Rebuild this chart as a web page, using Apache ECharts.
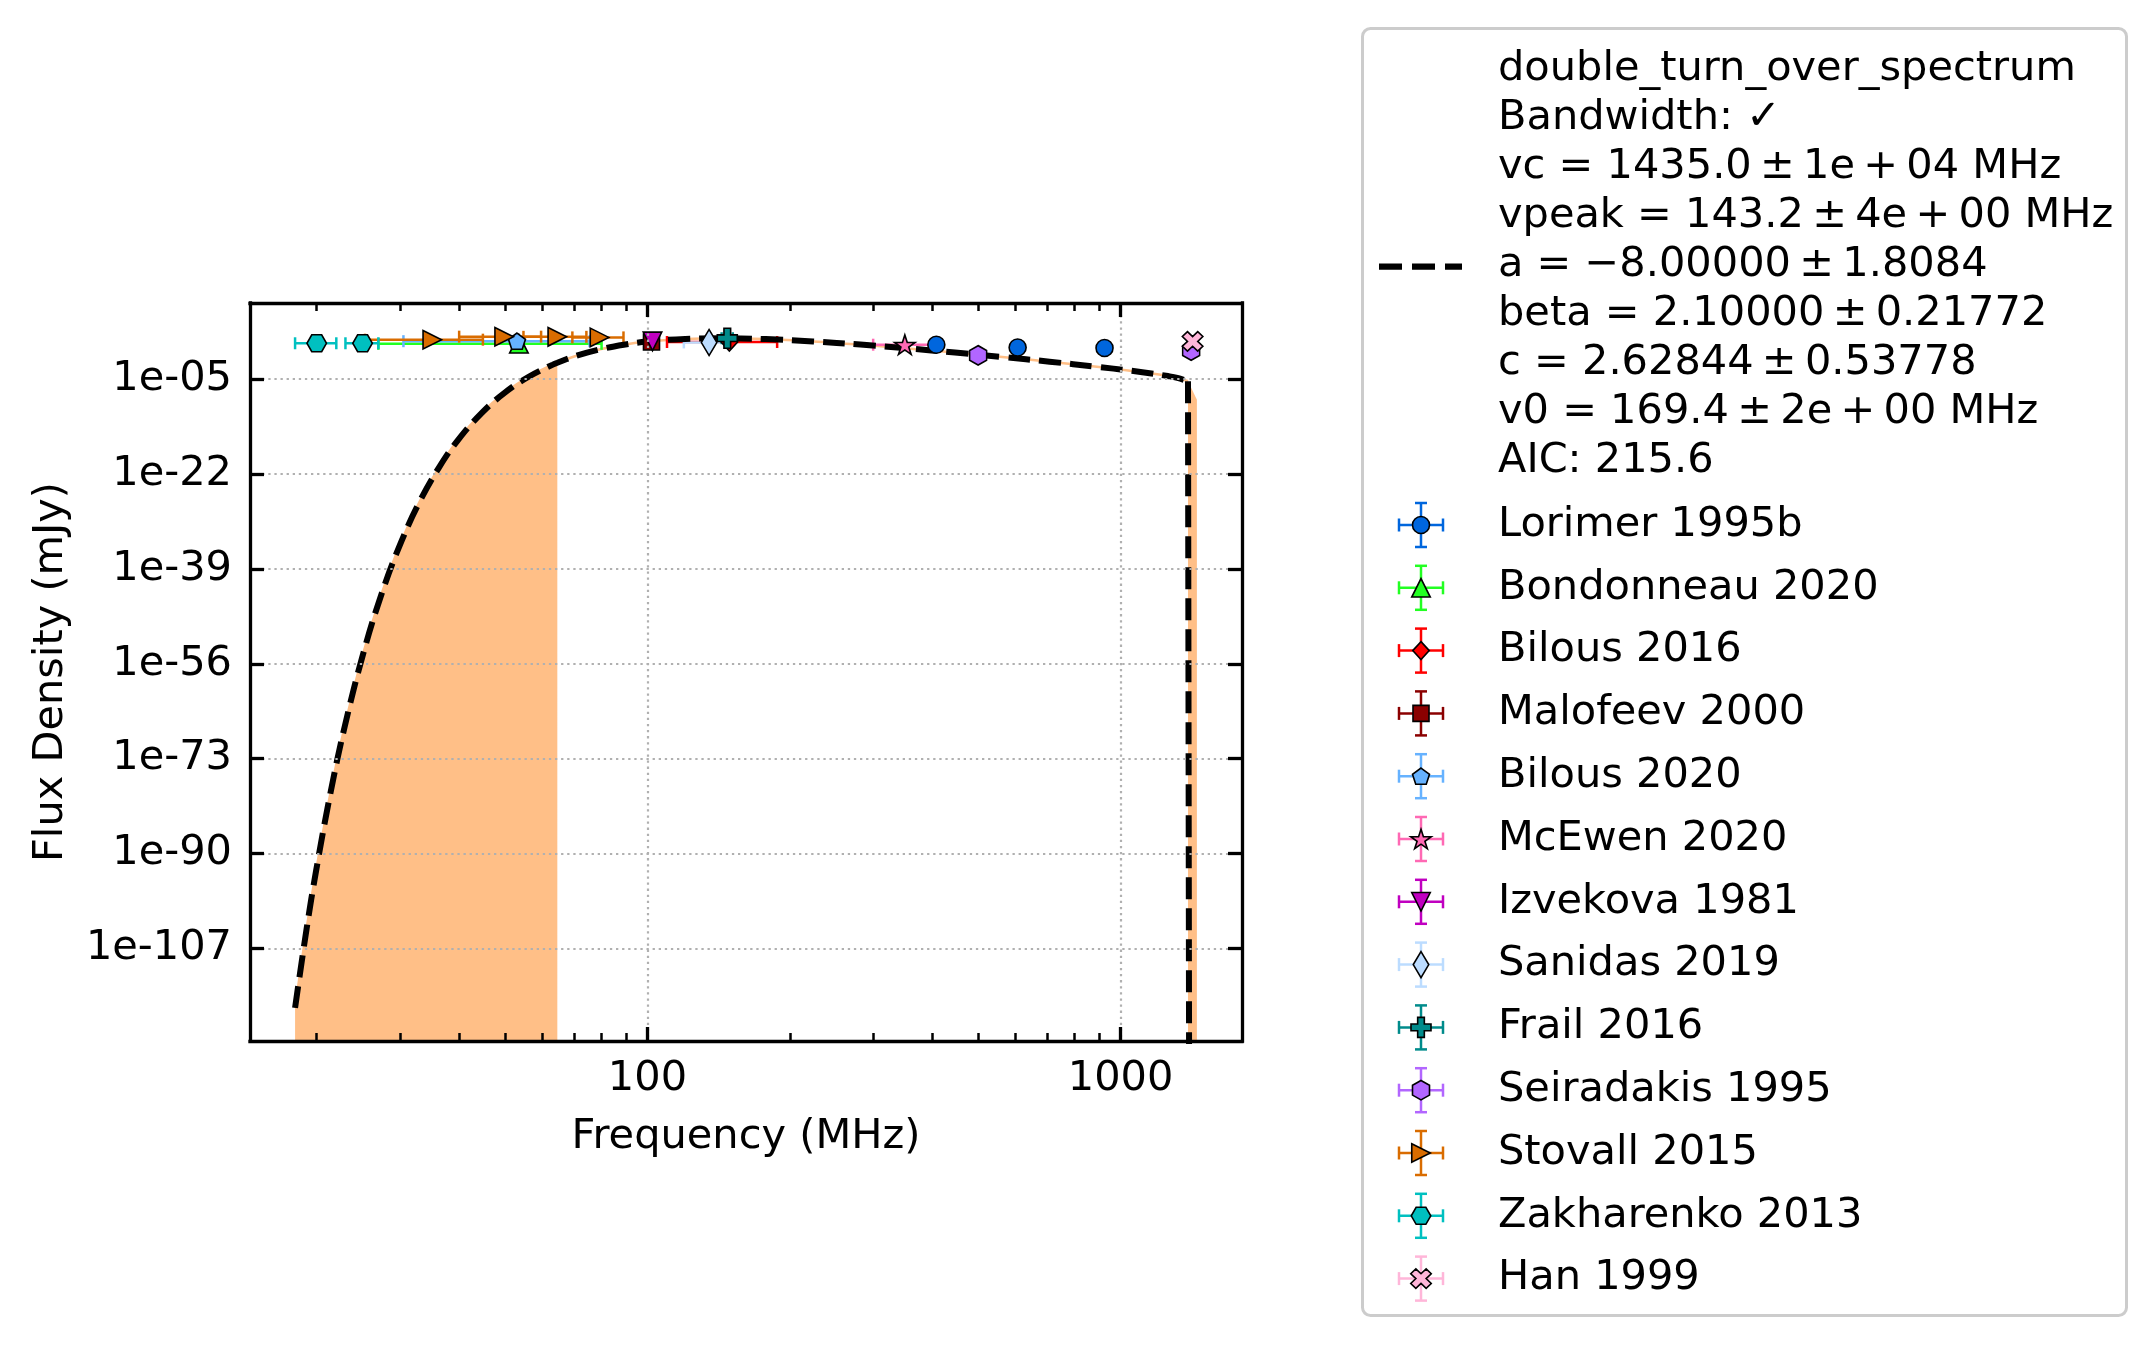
<!DOCTYPE html>
<html>
<head>
<meta charset="utf-8">
<script src="https://cdn.jsdelivr.net/npm/echarts@6/dist/echarts.min.js"></script>
<style>
html,body{margin:0;padding:0;background:#ffffff;}
#chart{width:2156px;height:1346px;}
</style>
</head>
<body>
<div id="chart"></div>
<script>
// ---------------- DATA ----------------
// tick values
const xMajorTicks = [100, 1000];
const xMinorTicks = [20, 30, 40, 50, 60, 70, 80, 90, 200, 300, 400, 500, 600, 700, 800, 900];
const yMajorExponents = [-5, -22, -39, -56, -73, -90, -107];

// catalogue names / colours / markers (legend order)
const seriesNames = ['Lorimer 1995b', 'Bondonneau 2020', 'Bilous 2016', 'Malofeev 2000', 'Bilous 2020',
  'McEwen 2020', 'Izvekova 1981', 'Sanidas 2019', 'Frail 2016', 'Seiradakis 1995', 'Stovall 2015',
  'Zakharenko 2013', 'Han 1999'];
const seriesColors = ['#0066dd', '#22ff22', '#ff0000', '#8b0000', '#66b2ff', '#ff69b4', '#c000c0',
  '#bcdcff', '#008b8b', '#b266ff', '#d96c00', '#00c0c0', '#ffb6d9'];
const seriesMarkers = ['o', '^', 'D', 's', 'p', '*', 'v', 'd', 'P', 'h', '>', 'H', 'X'];

// measurements (MHz, mJy)
const lorimerFreq = [408, 606, 925];        const lorimerFreqErr = [4, 6, 9];
const lorimerFlux = [13.8, 4.4, 3.5];       const lorimerFluxErr = [1.4, 0.5, 0.4];
const bondonneauFreq = [53.5];              const bondonneauFreqErr = [26.5];
const bondonneauFlux = [20];                const bondonneauFluxErr = [3];
const bilous2016Freq = [149];               const bilous2016FreqErr = [39];
const bilous2016Flux = [42];                const bilous2016FluxErr = [5];
const malofeevFreq = [102];                 const malofeevFreqErr = [1.5];
const malofeevFlux = [42];                  const malofeevFluxErr = [6];
const bilous2020Freq = [53];                const bilous2020FreqErr = [22.5];
const bilous2020Flux = [59];                const bilous2020FluxErr = [8];
const mcewenFreq = [350];                   const mcewenFreqErr = [50];
const mcewenFlux = [13.8];                  const mcewenFluxErr = [2];
const izvekovaFreq = [102.5];               const izvekovaFreqErr = [1.5];
const izvekovaFlux = [54];                  const izvekovaFluxErr = [8];
const sanidasFreq = [135];                  const sanidasFreqErr = [15.6];
const sanidasFlux = [35.5];                 const sanidasFluxErr = [5];
const frailFreq = [147.5];                  const frailFreqErr = [4];
const frailFlux = [200];                    const frailFluxErr = [25];
const seiradakisFreq = [500, 1410];         const seiradakisFreqErr = [5, 10];
const seiradakisFlux = [0.17, 1.2];         const seiradakisFluxErr = [0.03, 0.1];
const stovallFreq = [35.1, 49.8, 64.5, 79.2]; const stovallFreqErr = [9.8, 9.8, 9.8, 9.8];
const stovallFlux = [110, 380, 355, 282];   const stovallFluxErr = [20, 60, 50, 40];
const zakharenkoFreq = [20, 25];            const zakharenkoFreqErr = [2, 2];
const zakharenkoFlux = [25, 25];            const zakharenkoFluxErr = [5, 5];
const hanFreq = [1420];                     const hanFreqErr = [5];
const hanFlux = [54];                       const hanFluxErr = [6];

// fitted double turn-over spectrum (0 = beyond cut-off)
const fitFreq = [18.0, 19.05, 19.95, 21.38, 22.91, 25.12, 27.54, 30.20, 33.11, 36.31, 39.81, 44.67,
  50.12, 56.23, 63.10, 64.5, 70.79, 79.43, 89.13, 100, 120.23, 144.54, 177.83, 223.87, 281.84, 354.81,
  446.68, 562.34, 707.95, 891.25, 1047.13, 1174.90, 1258.93, 1318.26, 1388.5, 1450];
const fitFlux = [2.4e-118, 4.7e-104, 1.1e-93, 6.8e-80, 5.1e-68, 1.1e-54, 9.5e-44, 8.5e-35, 1.8e-27,
  1.7e-21, 1.3e-16, 8.7e-12, 4.4e-8, 2.8e-5, 3.8e-3, 8.3e-3, 0.147, 2.10, 13.95, 50.4, 152.9, 200.7,
  139.2, 53.7, 14.35, 3.03, 0.546, 0.0874, 0.01253, 1.563e-3, 3.14e-4, 8.50e-5, 3.33e-5, 1.53e-5,
  4.05e-6, 0];
// uncertainty band regions that reach down to zero flux
const bandLowFreq = [18.0, 19.05, 19.95, 21.38, 22.91, 25.12, 27.54, 30.20, 33.11, 36.31, 39.81, 44.67,
  50.12, 56.23, 63.10, 64.5];
const bandLowUpper = [2.4e-118, 4.7e-104, 1.1e-93, 6.8e-80, 5.1e-68, 1.1e-54, 9.5e-44, 8.5e-35, 1.8e-27,
  1.7e-21, 1.3e-16, 8.7e-12, 4.4e-8, 2.8e-5, 3.8e-3, 8.3e-3];
const bandHighFreq = [1388.5, 1450];
const bandHighUpper = [4.05e-6, 2.0e-9];

const legendFitLines = ['double_turn_over_spectrum', 'Bandwidth: \u2713',
  'vc = 1435.0\u2009\u00b1\u20091e\u2009+\u200904 MHz',
  'vpeak = 143.2\u2009\u00b1\u20094e\u2009+\u200900 MHz',
  'a = \u22128.00000\u2009\u00b1\u20091.8084',
  'beta = 2.10000\u2009\u00b1\u20090.21772',
  'c = 2.62844\u2009\u00b1\u20090.53778',
  'v0 = 169.4\u2009\u00b1\u20092e\u2009+\u200900 MHz',
  'AIC: 215.6'];

// ---------------- BUILD ----------------
const LOG = v => (v > 0 ? Math.log10(v) : -1000);
const FONT = 'DejaVu Sans';
const FS = 41.5;
const X_MIN = 1.16, X_MAX = 3.2567, Y_MIN = -123.56, Y_MAX = 8.61;
const FILL = '#ffbf87';

const measurements = [
  [lorimerFreq, lorimerFreqErr, lorimerFlux, lorimerFluxErr],
  [bondonneauFreq, bondonneauFreqErr, bondonneauFlux, bondonneauFluxErr],
  [bilous2016Freq, bilous2016FreqErr, bilous2016Flux, bilous2016FluxErr],
  [malofeevFreq, malofeevFreqErr, malofeevFlux, malofeevFluxErr],
  [bilous2020Freq, bilous2020FreqErr, bilous2020Flux, bilous2020FluxErr],
  [mcewenFreq, mcewenFreqErr, mcewenFlux, mcewenFluxErr],
  [izvekovaFreq, izvekovaFreqErr, izvekovaFlux, izvekovaFluxErr],
  [sanidasFreq, sanidasFreqErr, sanidasFlux, sanidasFluxErr],
  [frailFreq, frailFreqErr, frailFlux, frailFluxErr],
  [seiradakisFreq, seiradakisFreqErr, seiradakisFlux, seiradakisFluxErr],
  [stovallFreq, stovallFreqErr, stovallFlux, stovallFluxErr],
  [zakharenkoFreq, zakharenkoFreqErr, zakharenkoFlux, zakharenkoFluxErr],
  [hanFreq, hanFreqErr, hanFlux, hanFluxErr]
];

const markerDefs = {
  'o': { path: null, size: [17, 17] },
  '^': { path: 'M50,0L100,100L0,100Z', size: [18.5, 18.5] },
  'v': { path: 'M0,0L100,0L50,100Z', size: [18.5, 18.5] },
  '>': { path: 'M0,0L100,50L0,100Z', size: [18.5, 18.5] },
  'D': { path: 'M50,0L100,50L50,100L0,50Z', size: [16.5, 18] },
  'd': { path: 'M50,0L100,50L50,100L0,50Z', size: [15.5, 26] },
  's': { path: 'M0,0L100,0L100,100L0,100Z', size: [16, 16] },
  'p': { path: 'M95.1,0L190.2,69.1L153.9,180.9L36.3,180.9L0,69.1Z', size: [17, 16.2] },
  '*': { path: 'M95.1,0L117.55,69.1L190.2,69.1L131.43,111.8L153.9,180.9L95.1,138.2L36.3,180.9L58.77,111.8L0,69.1L72.65,69.1Z', size: [20.5, 19.5] },
  'P': { path: 'M20,0L40,0L40,20L60,20L60,40L40,40L40,60L20,60L20,40L0,40L0,20L20,20Z', size: [20, 20] },
  'h': { path: 'M86.6,0L173.2,50L173.2,150L86.6,200L0,150L0,50Z', size: [17, 19.5] },
  'H': { path: 'M200,86.6L150,173.2L50,173.2L0,86.6L50,0L150,0Z', size: [19.5, 17] },
  'X': { path: 'M10,0L20,10L30,0L40,10L30,20L40,30L30,40L20,30L10,40L0,30L10,20L0,10Z', size: [20.5, 19.5] }
};

// polygon points of a marker path fitted into a w x h box centred on (cx, cy)
function markerPoints(path, cx, cy, w, h) {
  const pts = path.replace(/[MZ]/g, '').split('L').map(s => s.split(',').map(Number));
  const xs = pts.map(p => p[0]), ys = pts.map(p => p[1]);
  const x0 = Math.min(...xs), x1 = Math.max(...xs), y0 = Math.min(...ys), y1 = Math.max(...ys);
  return pts.map(p => [cx - w / 2 + (p[0] - x0) / (x1 - x0) * w, cy - h / 2 + (p[1] - y0) / (y1 - y0) * h]);
}

const pairs = (fs, vs) => fs.map((f, i) => [LOG(f), LOG(vs[i])]);
const fitPositive = pairs(fitFreq.slice(0, fitFreq.length - 1), fitFlux.slice(0, fitFlux.length - 1));
const fitDrop = pairs(fitFreq.slice(fitFreq.length - 2), fitFlux.slice(fitFlux.length - 2));

const series = [];
series.push({
  type: 'line', data: pairs(bandLowFreq, bandLowUpper), smooth: 0.4, symbol: 'none', silent: true,
  lineStyle: { width: 0 }, areaStyle: { color: FILL, opacity: 1, origin: 'start' }, z: 1
});
series.push({
  type: 'line', data: pairs(bandHighFreq, bandHighUpper), symbol: 'none', silent: true,
  lineStyle: { width: 0 }, areaStyle: { color: FILL, opacity: 1, origin: 'start' }, z: 1
});
series.push({
  type: 'line', data: fitPositive, smooth: 0.4, symbol: 'none', silent: true,
  lineStyle: { color: FILL, width: 2.5 }, z: 2
});

// error bars
measurements.forEach((m, k) => {
  const [fr, fe, fl, fle] = m;
  const data = fr.map((f, i) => [LOG(f), LOG(fl[i]), LOG(f - fe[i]), LOG(f + fe[i]),
    LOG(fl[i] - fle[i]), LOG(fl[i] + fle[i])]);
  const color = seriesColors[k];
  series.push({
    type: 'custom', name: seriesNames[k] + ' err', data: data, z: 3, silent: true, clip: true,
    encode: { x: 0, y: 1 },
    renderItem: function (params, api) {
      const c = api.coord([api.value(0), api.value(1)]);
      const xl = api.coord([api.value(2), api.value(1)])[0];
      const xh = api.coord([api.value(3), api.value(1)])[0];
      const yl = api.coord([api.value(0), api.value(4)])[1];
      const yh = api.coord([api.value(0), api.value(5)])[1];
      const cap = 6;
      const st = { stroke: color, lineWidth: 2.5 };
      const ln = (x1, y1, x2, y2) => ({ type: 'line', shape: { x1, y1, x2, y2 }, style: st });
      return {
        type: 'group', children: [
          ln(xl, c[1], xh, c[1]), ln(xl, c[1] - cap, xl, c[1] + cap), ln(xh, c[1] - cap, xh, c[1] + cap),
          ln(c[0], yl, c[0], yh), ln(c[0] - cap, yl, c[0] + cap, yl), ln(c[0] - cap, yh, c[0] + cap, yh)
        ]
      };
    }
  });
});

// fitted curve
series.push({
  type: 'line', data: fitPositive, smooth: 0.4, symbol: 'none', silent: true,
  lineStyle: { color: '#000', width: 6, type: [22, 9], cap: 'butt' }, z: 4
});
series.push({
  type: 'line', data: fitDrop, symbol: 'none', silent: true,
  lineStyle: { color: '#000', width: 6, type: [22, 9], cap: 'butt' }, z: 4
});

// markers
measurements.forEach((m, k) => {
  const [fr, , fl] = m;
  const def = markerDefs[seriesMarkers[k]];
  series.push({
    type: 'scatter', name: seriesNames[k], data: pairs(fr, fl), z: 5, silent: true,
    symbol: def.path ? 'path://' + def.path : 'circle', symbolSize: def.size,
    itemStyle: { color: seriesColors[k], borderColor: '#000', borderWidth: 1.6, opacity: 1 }
  });
});

// ---------------- LEGEND (graphic) ----------------
const graphics = [];
graphics.push({
  type: 'rect', z: 100,
  shape: { x: 1362.5, y: 28.5, width: 764, height: 1287, r: 8 },
  style: { fill: '#ffffff', stroke: '#cccccc', lineWidth: 3 }
});
graphics.push({
  type: 'line', z: 101, shape: { x1: 1379, y1: 266.5, x2: 1462, y2: 266.5 },
  style: { stroke: '#000', lineWidth: 6.25, lineDash: [23, 10] }
});
legendFitLines.forEach((t, i) => {
  graphics.push({
    type: 'text', z: 101, x: 1498, y: 69 + i * 49.0,
    style: { text: t, font: FS + 'px "' + FONT + '"', fill: '#000', align: 'left', verticalAlign: 'middle' }
  });
});
seriesNames.forEach((nm, k) => {
  const cy = 525 + k * 62.8, cx = 1421;
  const st = { stroke: seriesColors[k], lineWidth: 2.5 };
  const ln = (x1, y1, x2, y2) => ({ type: 'line', z: 101, shape: { x1, y1, x2, y2 }, style: st });
  graphics.push(ln(cx - 22, cy, cx + 22, cy), ln(cx - 22, cy - 6.5, cx - 22, cy + 6.5), ln(cx + 22, cy - 6.5, cx + 22, cy + 6.5));
  graphics.push(ln(cx, cy - 22, cx, cy + 22), ln(cx - 6, cy - 22, cx + 6, cy - 22), ln(cx - 6, cy + 22, cx + 6, cy + 22));
  const def = markerDefs[seriesMarkers[k]];
  const mst = { fill: seriesColors[k], stroke: '#000', lineWidth: 1.6 };
  if (def.path) {
    graphics.push({
      type: 'polygon', z: 102,
      shape: { points: markerPoints(def.path, cx, cy, def.size[0], def.size[1]) },
      style: mst
    });
  } else {
    graphics.push({ type: 'circle', z: 102, shape: { cx: cx, cy: cy, r: def.size[0] / 2 }, style: mst });
  }
  graphics.push({
    type: 'text', z: 101, x: 1498, y: cy,
    style: { text: nm, font: FS + 'px "' + FONT + '"', fill: '#000', align: 'left', verticalAlign: 'middle' }
  });
});

// ---------------- AXES ----------------
const txt = { color: '#000', fontFamily: FONT, fontSize: FS };
const xFmt = v => String(Math.round(Math.pow(10, v)));
const yFmt = v => { const e = Math.round(v); const a = Math.abs(e); return '1e' + (e < 0 ? '-' : '+') + (a < 10 ? '0' + a : a); };
const xMaj = xMajorTicks.map(LOG), xMin = xMinorTicks.map(LOG);
const lineStyleAxis = { color: '#000', width: 3.3, cap: 'square' };
const gridLine = { show: true, lineStyle: { color: '#b0b0b0', width: 2.2, type: [2.3, 3.8] } };

function xAx(position, ticks, len, width, opts) {
  return Object.assign({
    type: 'value', position: position, min: X_MIN, max: X_MAX, z: 10,
    axisLine: { show: false, onZero: false },
    axisTick: { show: true, inside: true, length: len, lineStyle: { color: '#000', width: width }, customValues: ticks },
    axisLabel: { show: false },
    splitLine: { show: false }
  }, opts || {});
}
const xAxes = [
  xAx('bottom', xMaj, 14, 3.3, {
    axisLine: { show: true, onZero: false, lineStyle: lineStyleAxis },
    axisLabel: Object.assign({ show: true, customValues: xMaj, formatter: xFmt, margin: 17 }, txt),
    splitLine: gridLine,
    name: 'Frequency (MHz)', nameLocation: 'middle', nameGap: 96, nameMoveOverlap: false,
    nameTextStyle: Object.assign({ verticalAlign: 'middle' }, txt)
  }),
  xAx('bottom', xMin, 8, 2.5),
  xAx('top', xMaj, 14, 3.3, { axisLine: { show: true, onZero: false, lineStyle: lineStyleAxis } }),
  xAx('top', xMin, 8, 2.5)
];
const yMaj = yMajorExponents.slice();
const yAxes = [
  {
    type: 'value', position: 'left', min: Y_MIN, max: Y_MAX, z: 10,
    axisLine: { show: true, onZero: false, lineStyle: lineStyleAxis },
    axisTick: { show: true, inside: true, length: 14, lineStyle: { color: '#000', width: 3.3 }, customValues: yMaj },
    axisLabel: Object.assign({ show: true, customValues: yMaj, formatter: yFmt, margin: 18 }, txt),
    splitLine: gridLine,
    name: 'Flux Density (mJy)', nameLocation: 'middle', nameGap: 199, nameMoveOverlap: false,
    nameTextStyle: Object.assign({ verticalAlign: 'middle' }, txt)
  },
  {
    type: 'value', position: 'right', min: Y_MIN, max: Y_MAX, z: 10,
    axisLine: { show: true, onZero: false, lineStyle: lineStyleAxis },
    axisTick: { show: true, inside: true, length: 14, lineStyle: { color: '#000', width: 3.3 }, customValues: yMaj },
    axisLabel: { show: false }, splitLine: { show: false }
  }
];

const chart = echarts.init(document.getElementById('chart'), null, { renderer: 'canvas', width: 2156, height: 1346 });
chart.setOption({
  backgroundColor: '#ffffff',
  animation: false,
  textStyle: { fontFamily: FONT },
  grid: { left: 250, top: 303, width: 992, height: 738, containLabel: false, outerBoundsMode: 'none' },
  xAxis: xAxes,
  yAxis: yAxes,
  series: series,
  graphic: { elements: graphics }
});
</script>
</body>
</html>
